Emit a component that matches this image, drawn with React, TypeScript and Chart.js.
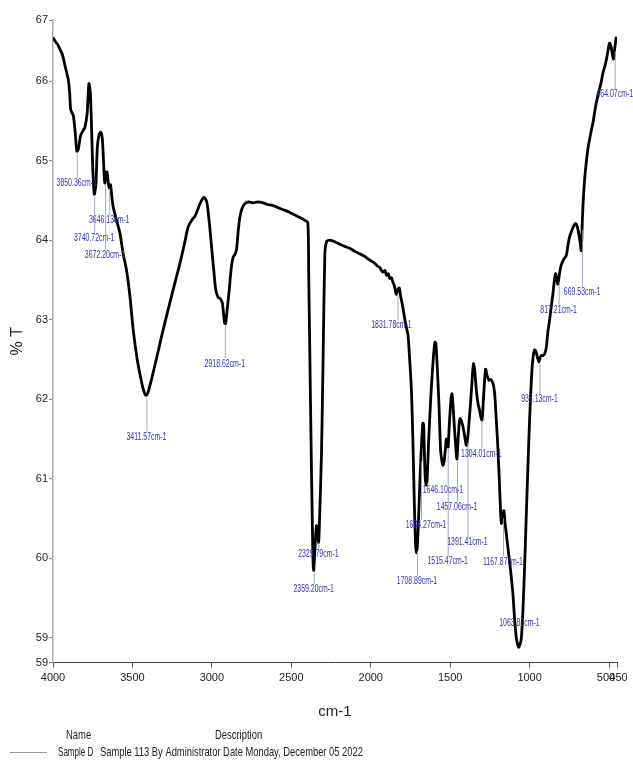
import React, { useEffect, useRef } from "react";
import { Chart, registerables } from "chart.js";

Chart.register(...registerables);

// Wavenumbers (cm-1), descending
const wavenumbers = [
  4000, 3985, 3970, 3956, 3940, 3925, 3904, 3895, 3889, 3880, 3872, 3860, 3850, 3840, 3826, 3810, 3799, 3785, 3774, 3765,
  3757, 3750, 3740, 3730, 3721, 3710, 3700, 3690, 3682, 3674, 3666, 3660, 3652, 3646, 3638, 3630, 3621, 3600, 3579, 3558,
  3537, 3516, 3495, 3470, 3453, 3435, 3420, 3411, 3400, 3380, 3350, 3306, 3250, 3201, 3170, 3149, 3120, 3107, 3090, 3075,
  3060, 3050, 3040, 3030, 3015, 3002, 2988, 2975, 2960, 2950, 2940, 2933, 2920, 2914, 2905, 2891, 2878, 2866, 2855, 2845,
  2835, 2824, 2810, 2792, 2775, 2761, 2740, 2720, 2700, 2677, 2650, 2620, 2593, 2560, 2530, 2509, 2480, 2450, 2415, 2396,
  2390, 2383, 2376, 2369, 2363, 2359, 2352, 2342, 2335, 2328, 2322, 2310, 2300, 2289, 2279, 2265, 2250, 2237, 2215, 2195,
  2160, 2132, 2100, 2069, 2040, 2006, 1980, 1960, 1944, 1925, 1910, 1901, 1890, 1881, 1870, 1860, 1850, 1845, 1839, 1830,
  1820, 1812, 1800, 1785, 1775, 1765, 1755, 1744, 1735, 1728, 1723, 1717, 1713, 1707, 1700, 1690, 1680, 1672, 1667, 1662,
  1656, 1650, 1645, 1635, 1620, 1605, 1596, 1590, 1580, 1570, 1560, 1550, 1545, 1538, 1530, 1524, 1518, 1513, 1505, 1495,
  1489, 1482, 1472, 1460, 1457, 1450, 1442, 1436, 1428, 1420, 1410, 1400, 1396, 1388, 1377, 1365, 1358, 1352, 1345, 1335,
  1325, 1315, 1305, 1300, 1295, 1290, 1283, 1277, 1268, 1256, 1245, 1235, 1228, 1220, 1210, 1200, 1190, 1182, 1178, 1170,
  1162, 1155, 1145, 1137, 1120, 1105, 1095, 1084, 1076, 1069, 1060, 1052, 1042, 1031, 1020, 1010, 1000, 989, 980, 969,
  960, 950, 942, 935, 927, 916, 906, 895, 885, 874, 863, 853, 845, 837, 830, 822, 812, 801, 785, 769,
  760, 749, 735, 720, 711, 700, 690, 682, 675, 668, 661, 650, 633, 615, 602, 585, 566, 550, 539, 525,
  518, 507, 497, 488, 480, 472, 465, 455,
];

// Transmittance (%T) matching the wavenumbers above
const transmittance = [
  66.55, 66.5, 66.46, 66.4, 66.33, 66.2, 66.02, 65.85, 65.65, 65.6, 65.57, 65.35, 65.12, 65.15, 65.32, 65.38, 65.42, 65.6, 65.97, 65.85,
  65.4, 64.92, 64.58, 64.7, 65.17, 65.33, 65.36, 65.28, 65.0, 64.72, 64.85, 64.86, 64.72, 64.66, 64.7, 64.55, 64.42, 64.25, 64.09, 63.83,
  63.62, 63.3, 62.87, 62.5, 62.32, 62.15, 62.06, 62.05, 62.1, 62.25, 62.5, 62.88, 63.33, 63.71, 63.98, 64.17, 64.27, 64.3, 64.38, 64.46,
  64.52, 64.54, 64.52, 64.46, 64.2, 63.92, 63.62, 63.37, 63.28, 63.27, 63.24, 63.2, 62.96, 62.95, 63.1, 63.37, 63.65, 63.79, 63.82, 63.88,
  64.1, 64.29, 64.4, 64.46, 64.48, 64.48, 64.47, 64.48, 64.48, 64.47, 64.45, 64.44, 64.42, 64.39, 64.37, 64.35, 64.32, 64.29, 64.25, 64.22,
  63.5, 62.5, 61.5, 60.6, 59.95, 59.85, 60.1, 60.41, 60.35, 60.2, 60.5, 61.32, 62.5, 63.83, 63.98, 64.0, 64.0, 63.99, 63.97, 63.95,
  63.92, 63.9, 63.86, 63.83, 63.8, 63.75, 63.72, 63.68, 63.66, 63.6, 63.62, 63.56, 63.58, 63.52, 63.53, 63.47, 63.42, 63.36, 63.32, 63.38,
  63.4, 63.3, 63.18, 63.0, 62.9, 62.8, 62.5, 62.12, 61.5, 60.9, 60.48, 60.15, 60.07, 60.15, 60.45, 61.0, 61.45, 61.7, 61.68, 61.3,
  60.98, 60.92, 61.0, 61.5, 62.1, 62.55, 62.72, 62.7, 62.35, 61.9, 61.35, 61.2, 61.17, 61.22, 61.38, 61.5, 61.44, 61.4, 61.7, 62.0,
  62.07, 61.92, 61.6, 61.28, 61.25, 61.5, 61.72, 61.76, 61.72, 61.66, 61.55, 61.43, 61.42, 61.55, 61.82, 62.15, 62.36, 62.45, 62.35, 62.11,
  61.95, 61.86, 61.76, 61.74, 61.85, 62.03, 62.25, 62.38, 62.3, 62.24, 62.25, 62.22, 62.18, 62.07, 61.75, 61.4, 60.95, 60.55, 60.44, 60.52,
  60.6, 60.45, 60.28, 60.14, 59.85, 59.55, 59.25, 59.0, 58.92, 58.88, 58.92, 59.0, 59.35, 59.93, 60.6, 61.19, 61.75, 62.24, 62.5, 62.62,
  62.6, 62.52, 62.47, 62.52, 62.55, 62.55, 62.57, 62.65, 62.85, 63.0, 63.18, 63.33, 63.48, 63.58, 63.52, 63.45, 63.58, 63.69, 63.76, 63.81,
  63.92, 64.04, 64.12, 64.19, 64.21, 64.17, 64.08, 63.97, 63.87, 64.25, 64.55, 64.85, 65.15, 65.35, 65.47, 65.68, 65.86, 65.98, 66.1, 66.2,
  66.26, 66.38, 66.48, 66.44, 66.35, 66.28, 66.4, 66.56,
];

// Peak labels: wavenumber, text, %T level of the label
const peakWavenumbers = [3850.36, 3646.13, 3740.72, 3672.2, 3411.57, 2918.62, 2359.2, 2329.79, 1831.78, 1708.89, 1684.27, 1646.1, 1457.06, 1515.47, 1391.41, 1304.01, 1167.87, 1063.83, 938.13, 817.21, 669.53, 464.07];
const peakLabels = peakWavenumbers.map((w) => w.toFixed(2) + "cm-1");
const peakLabelLevels = [64.72, 64.25, 64.03, 63.81, 61.53, 62.45, 59.62, 60.06, 62.93, 59.72, 60.42, 60.86, 60.64, 59.97, 60.2, 61.31, 59.96, 59.19, 62.0, 63.12, 63.35, 65.84];
// horizontal nudges of label text, px
const peakLabelShift = [0, 0, 0, 0, 0, 0, 0, 0, -6, 0, 5, 16, 0, 0, 0, 0, 0, 0, 0, 0, 0, 0];

const xTickValues = [4000, 3500, 3000, 2500, 2000, 1500, 1000, 500, 450];
const yTickValues = [59, 60, 61, 62, 63, 64, 65, 66];
const yMin = 58.69;
const yMax = 66.77;

const legendName = "Sample D";
const legendDescription = "Sample 113 By Administrator Date Monday, December 05 2022";

const FONT = "'Liberation Sans', Arial, sans-serif";

function interp(w: number): number {
  for (let i = 0; i < wavenumbers.length - 1; i++) {
    const a = wavenumbers[i], b = wavenumbers[i + 1];
    if (w <= a && w >= b) {
      const t = (a - w) / (a - b);
      return transmittance[i] + t * (transmittance[i + 1] - transmittance[i]);
    }
  }
  return transmittance[transmittance.length - 1];
}

// draw text squeezed horizontally to mimic the narrow font of the original
function narrowText(ctx: CanvasRenderingContext2D, text: string, x: number, y: number, sx: number, align: CanvasTextAlign) {
  ctx.save();
  ctx.translate(x, y);
  ctx.scale(sx, 1);
  ctx.textAlign = align;
  ctx.fillText(text, 0, 0);
  ctx.restore();
}

const peakPlugin = {
  id: "peakLabels",
  afterDatasetsDraw(chart: any) {
    const { ctx, scales } = chart;
    const xs = scales.x, ys = scales.y;
    ctx.save();
    ctx.font = `11px ${FONT}`;
    ctx.textBaseline = "middle";
    peakWavenumbers.forEach((w, i) => {
      const x = xs.getPixelForValue(w);
      const yc = ys.getPixelForValue(interp(w)) + 3;
      const yl = ys.getPixelForValue(peakLabelLevels[i]);
      if (yl - 6 > yc) {
        ctx.strokeStyle = "rgba(150,150,205,0.85)";
        ctx.lineWidth = 1;
        ctx.beginPath();
        ctx.moveTo(x + 0.5, yc);
        ctx.lineTo(x + 0.5, yl - 5);
        ctx.stroke();
      }
      ctx.fillStyle = "#3232b4";
      narrowText(ctx, peakLabels[i], x + peakLabelShift[i], yl, 0.63, "center");
    });
    ctx.restore();
  },
};

const footerPlugin = {
  id: "footer",
  afterDraw(chart: any) {
    const { ctx } = chart;
    ctx.save();
    ctx.fillStyle = "#222";
    ctx.textBaseline = "middle";
    ctx.font = `13px ${FONT}`;
    narrowText(ctx, "Name", 66, 735, 0.725, "left");
    narrowText(ctx, "Description", 215, 735, 0.725, "left");
    narrowText(ctx, legendName, 58, 752, 0.62, "left");
    narrowText(ctx, legendDescription, 100, 752, 0.72, "left");
    ctx.strokeStyle = "#999";
    ctx.lineWidth = 1;
    ctx.beginPath();
    ctx.moveTo(10, 752.5);
    ctx.lineTo(47, 752.5);
    ctx.stroke();
    ctx.restore();
  },
};

export default function App() {
  const ref = useRef<HTMLCanvasElement | null>(null);
  useEffect(() => {
    if (!ref.current) return;
    const points = wavenumbers.map((w, i) => ({ x: w, y: transmittance[i] }));
    const chart = new Chart(ref.current, {
      type: "line",
      data: {
        datasets: [
          {
            label: legendName,
            data: points,
            borderColor: "#000",
            borderWidth: 2.8,
            pointRadius: 0,
            tension: 0.25,
            fill: false,
          },
        ],
      },
      options: {
        animation: false,
        responsive: false,
        devicePixelRatio: 1,
        layout: { padding: { left: 0, top: 20, right: 16, bottom: 0 } },
        plugins: { legend: { display: false }, tooltip: { enabled: false } },
        scales: {
          x: {
            type: "linear",
            reverse: true,
            min: 450,
            max: 4000,
            afterBuildTicks: (scale: any) => {
              scale.ticks = xTickValues.map((v) => ({ value: v }));
            },
            afterFit: (scale: any) => {
              scale.height = 97.5;
            },
            ticks: {
              autoSkip: false,
              maxRotation: 0,
              padding: 4,
              color: "#222",
              font: { family: FONT, size: 11 },
              callback: (v: any) => (v === 500 ? "500  " : v === 450 ? " 450" : String(v)),
            },
            grid: { display: true, drawOnChartArea: false, drawTicks: true, tickLength: 5, color: "#555" },
            border: { display: true, color: "#444", width: 1 },
            title: {
              display: true,
              text: "cm-1",
              color: "#222",
              font: { family: FONT, size: 15 },
              padding: { top: 0, bottom: 39 },
            },
          },
          y: {
            type: "linear",
            min: yMin,
            max: yMax,
            afterBuildTicks: (scale: any) => {
              scale.ticks = [yMin, ...yTickValues, yMax].map((v) => ({ value: v }));
            },
            afterFit: (scale: any) => {
              scale.width = 53;
            },
            ticks: {
              autoSkip: false,
              padding: 1,
              color: "#222",
              font: { family: FONT, size: 11 },
              callback: (v: any) => String(Math.round(Number(v))),
            },
            grid: { display: true, drawOnChartArea: false, drawTicks: true, tickLength: 4, color: "#888" },
            border: { display: true, color: "#aaa", width: 1.5 },
            title: {
              display: true,
              text: "% T",
              color: "#222",
              font: { family: FONT, size: 16 },
              padding: { top: 8, bottom: 0 },
            },
          },
        },
      },
      plugins: [peakPlugin, footerPlugin],
    });
    return () => chart.destroy();
  }, []);
  return (
    <div style={{ position: "absolute", left: 0, top: 0, width: 633, height: 760 }}>
      <canvas ref={ref} width={633} height={760} />
    </div>
  );
}
